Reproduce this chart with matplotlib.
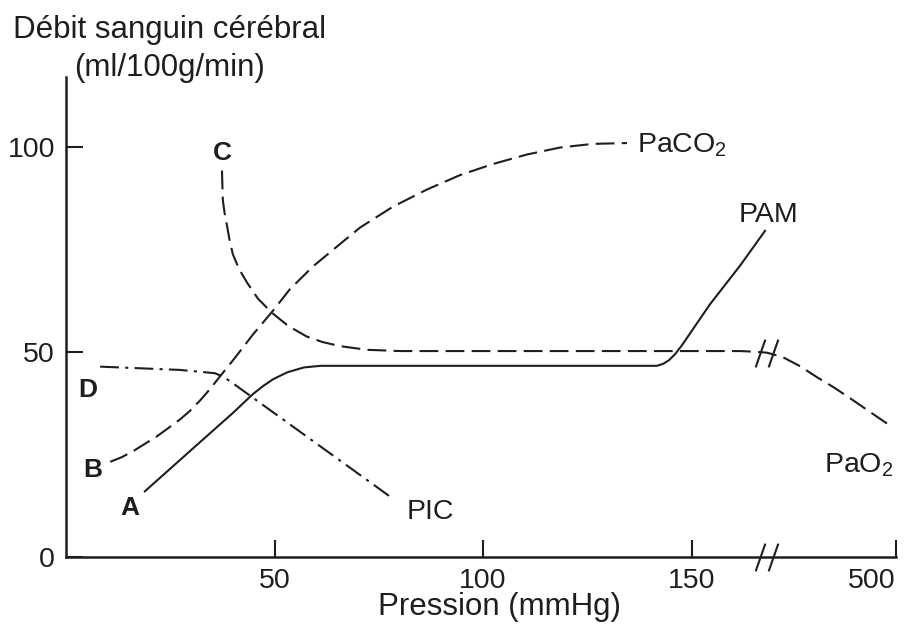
import matplotlib
matplotlib.use("Agg")
import matplotlib.pyplot as plt

plt.rcParams['font.family'] = ['Liberation Sans', 'DejaVu Sans']
plt.rcParams['mathtext.fontset'] = 'custom'
plt.rcParams['mathtext.rm'] = 'Liberation Sans'
plt.rcParams['mathtext.it'] = 'Liberation Sans'

ink = "#1e1e1e"

# Courbes du débit sanguin cérébral (x en position sur l'axe, 500 mmHg après la coupure)
paco2_x = [10.6, 13.3, 16.1, 21.8, 27.3, 29.7, 32.1, 34.5, 36.9, 40.0, 44.8, 49.6, 53.7,
           59.2, 65.0, 70.5, 78.4, 86.6, 94.5, 102.4, 110.5, 118.4, 126.3, 134.5]
paco2_y = [23.2, 24.3, 25.8, 29.4, 33.5, 35.6, 38.1, 40.9, 44.0, 47.9, 54.2, 60.0, 65.3,
           70.8, 75.7, 80.3, 85.4, 89.6, 93.1, 95.8, 98.1, 99.8, 100.7, 100.9]

pao2_x = [37.4, 37.5, 37.6, 38.0, 38.6, 39.2, 40.0, 41.5, 43.4, 46.0, 49.4, 53.3, 57.8,
          61.5, 65.7, 72.2, 80.1, 161.6, 165.7, 168.1, 171.9, 176.0, 180.1, 184.0,
          188.0, 193.0, 197.6]
pao2_y = [94.2, 90.5, 87.0, 84.0, 80.8, 77.3, 73.8, 70.2, 66.9, 63.0, 59.5, 56.3, 53.7,
          52.4, 51.4, 50.5, 50.2, 50.2, 50.0, 49.8, 48.7, 46.5, 43.8, 41.4,
          38.7, 35.2, 32.0]

pam_x = [18.9, 29.7, 40.0, 44.8, 47.3, 49.6, 53.0, 57.0, 61.0, 141.7, 143.2, 144.6, 146.0,
         147.6, 154.4, 161.6, 167.6]
pam_y = [16.0, 25.8, 35.1, 39.7, 41.7, 43.3, 45.0, 46.2, 46.6, 46.6, 47.1, 48.0, 49.4,
         51.5, 61.6, 71.0, 79.5]

pic_x = [8.2, 27.3, 35.7, 37.8, 39.8, 78.4]
pic_y = [46.4, 45.6, 44.8, 43.9, 42.5, 14.2]

xticks = [50, 100, 150, 199]
xlabels = ["50", "100", "150", "500"]
yticks = [0, 50, 100]
coupure = 168

fig = plt.figure(figsize=(9.05, 6.32), dpi=100)
ax = fig.add_axes([66 / 905, 75 / 632, 830 / 905, 480 / 632])

ax.plot(paco2_x, paco2_y, color=ink, lw=1.5, dashes=(9, 3.5))
ax.plot(pao2_x, pao2_y, color=ink, lw=1.5, dashes=(9, 3.5))
ax.plot(pam_x, pam_y, color=ink, lw=1.5, solid_joinstyle='round')
ax.plot(pic_x, pic_y, color=ink, lw=1.5, dashes=(9, 3, 1.5, 3))

# marques de coupure //
brk = [(-0.35, -1), (0.35, 1)]
for dx in (-1.6, 1.6):
    ax.plot([coupure + dx], [0], marker=brk, ms=20, mew=1.5, color=ink, clip_on=False)
    ax.plot([coupure + dx], [49.8], marker=brk, ms=20, mew=1.5, color=ink, clip_on=False)

ax.set_xlim(0, 199)
ax.set_ylim(0, 117)
for s in ("top", "right"):
    ax.spines[s].set_visible(False)
for s in ("left", "bottom"):
    ax.spines[s].set_linewidth(1.8)
    ax.spines[s].set_color(ink)

ax.set_xticks(xticks)
ax.set_xticklabels(xlabels)
ax.get_xticklabels()[-1].set_horizontalalignment('right')
ax.set_yticks(yticks)
ax.tick_params(direction='in', length=12, width=1.5, colors=ink, labelsize=20.5, pad=8)

# étiquettes des courbes
bold = dict(fontsize=19, fontweight='bold', color=ink, ha='center', va='center')
ax.text(37.4, 98.5, "C", **bold)
ax.text(5.3, 40.7, "D", **bold)
ax.text(6.5, 21.2, "B", **bold)
ax.text(15.3, 11.9, "A", **bold)

lab = dict(fontsize=20.5, color=ink, va='center')
ax.text(137.0, 100.4, "PaCO$_2$", ha='left', **lab)
ax.text(168.5, 83.4, "PAM", ha='center', **lab)
ax.text(190.1, 22.4, "PaO$_2$", ha='center', **lab)
ax.text(87.3, 11.0, "PIC", ha='center', **lab)

fig.text(170 / 905, 1 - 30 / 632, "Débit sanguin cérébral", fontsize=22.5, color=ink,
         ha='center', va='center')
fig.text(170 / 905, 1 - 68 / 632, "(ml/100g/min)", fontsize=22.5, color=ink,
         ha='center', va='center')
fig.text(499 / 905, 1 - 607 / 632, "Pression (mmHg)", fontsize=22.5, color=ink,
         ha='center', va='center')

fig.savefig("out.png", dpi=100)
